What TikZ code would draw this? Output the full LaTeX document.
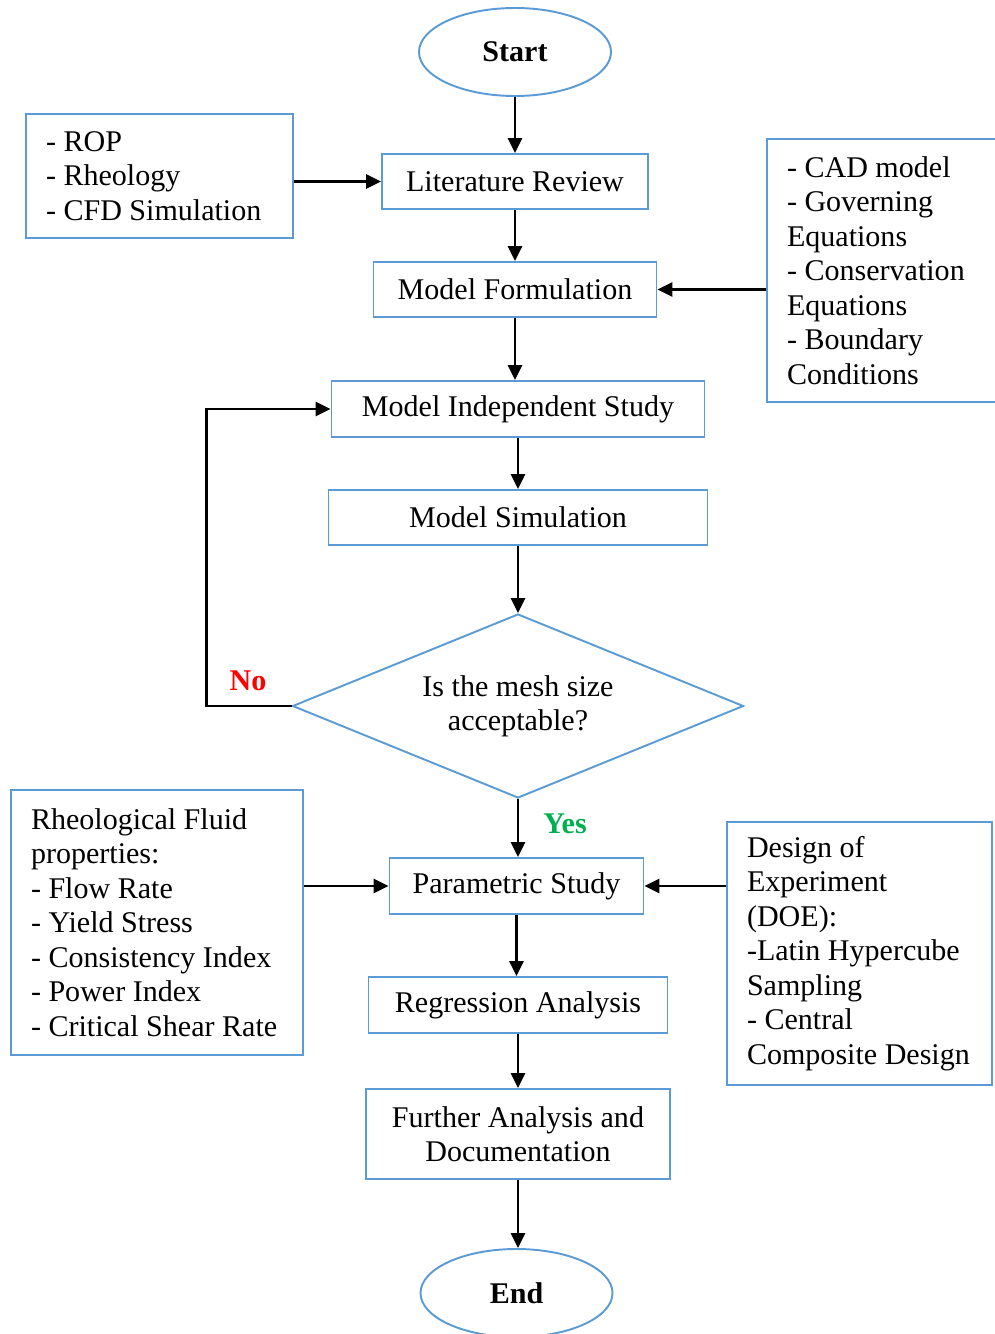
\documentclass[tikz,border=0pt]{standalone}
\usepackage{fontspec}
\setmainfont{Liberation Serif}
\usepackage{xcolor}
\usepackage{tikz}
\usetikzlibrary{shapes,arrows.meta,positioning}

\definecolor{boxblue}{HTML}{5B9BD5}
\definecolor{yesgreen}{HTML}{00B050}

\newcommand{\chartfont}{\fontsize{17.1}{19.6}\selectfont}

\tikzset{
  process/.style={rectangle, draw=boxblue, line width=1.1pt, minimum height=1.1cm, inner sep=0pt, align=center},
  sidebox/.style={rectangle, draw=boxblue, line width=1.1pt, inner xsep=0.4cm, inner ysep=0pt, align=flush left},
  startstop/.style={ellipse, draw=boxblue, line width=1.1pt, minimum width=3.84cm, minimum height=1.76cm, inner sep=0pt, font=\chartfont\bfseries},
  decision/.style={diamond, draw=boxblue, line width=1.1pt, minimum width=9.02cm, minimum height=3.68cm, inner sep=1pt, aspect=2.45, align=center},
  arrow/.style={-{Triangle[length=8.5pt,width=8pt]}, line width=1.3pt}
}

\begin{document}
\begin{tikzpicture}[font=\chartfont]
\useasboundingbox (0,0) rectangle (19.9,-26.68);

% main column
\node (start) [startstop] at (10.3,-1.04) {Start};
\node (lit) [process, minimum width=5.32cm] at (10.3,-3.63) {Literature Review};
\node (mf) [process, minimum width=5.66cm] at (10.3,-5.79) {Model Formulation};
\node (mis) [process, minimum width=7.46cm, minimum height=1.12cm] at (10.36,-8.18) {Model Independent Study};
\node (ms) [process, minimum width=7.58cm] at (10.36,-10.35) {Model Simulation};
\node (dec) [decision] at (10.36,-14.12) {Is the mesh size\\acceptable?};
\node (ps) [process, minimum width=5.08cm, minimum height=1.12cm] at (10.33,-17.72) {Parametric Study};
\node (ra) [process, minimum width=5.98cm, minimum height=1.12cm] at (10.36,-20.1) {Regression Analysis};
\node (fa) [process, minimum width=6.08cm, minimum height=1.8cm] at (10.36,-22.68) {Further Analysis and\\Documentation};
\node (end) [startstop] at (10.33,-25.86) {End};

% side boxes
\node (rop) [sidebox, text width=4.54cm, minimum height=2.48cm] at (3.19,-3.52) {- ROP\\- Rheology\\- CFD Simulation};
\node (cad) [sidebox, text width=3.78cm, minimum height=5.26cm] at (17.63,-5.41) {- CAD model\\- Governing\\Equations\\- Conservation\\Equations\\- Boundary\\Conditions};
\node (rheo) [sidebox, text width=5.04cm, minimum height=5.3cm] at (3.14,-18.45) {Rheological Fluid\\properties:\\- Flow Rate\\- Yield Stress\\- Consistency Index\\- Power Index\\- Critical Shear Rate};
\node (doe) [sidebox, text width=4.5cm, minimum height=5.26cm] at (17.19,-19.07) {Design of\\Experiment\\(DOE):\\-Latin Hypercube\\Sampling\\- Central\\Composite Design};

% labels
\node (no) [text=red, font=\chartfont\bfseries] at (4.96,-13.62) {No};
\node (yes) [text=yesgreen, font=\chartfont\bfseries] at (11.3,-16.48) {Yes};

% connectors
\draw[arrow] (start) -- (lit);
\draw[arrow] (lit) -- (lit |- mf.north);
\draw[arrow] (mf) -- (mf |- mis.north);
\draw[arrow] (mis) -- (ms);
\draw[arrow] (ms) -- (dec);
\draw[arrow] (dec) -- (dec |- ps.north);
\draw[arrow] (ps) -- (ps |- ra.north);
\draw[arrow] (ra) -- (fa);
\draw[arrow] (fa) -- (fa |- end.north);
\draw[arrow] (dec.west) -- ++(-1.7,0) |- (mis.west);
\draw[arrow] (rop.east |- lit) -- (lit);
\draw[arrow] (cad.west |- mf) -- (mf);
\draw[arrow] (rheo.east |- ps) -- (ps);
\draw[arrow] (doe.west |- ps) -- (ps);
\end{tikzpicture}
\end{document}
